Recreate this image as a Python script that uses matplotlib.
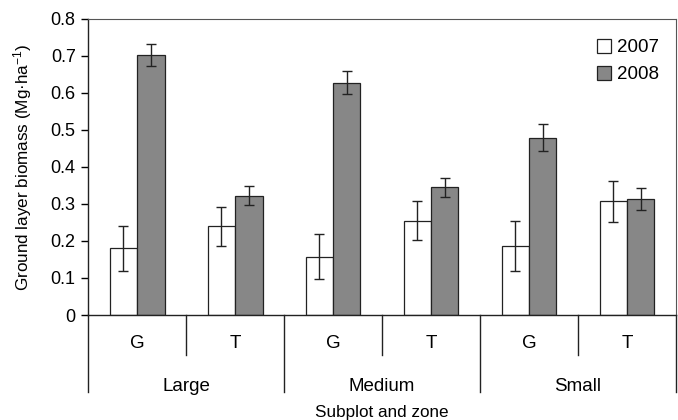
import matplotlib.pyplot as plt
import numpy as np

plt.rcParams['font.family'] = ['Liberation Sans', 'DejaVu Sans']
plt.rcParams['mathtext.fontset'] = 'custom'
plt.rcParams['mathtext.rm'] = 'Liberation Sans'
plt.rcParams['mathtext.it'] = 'Liberation Sans'

zones = ["G", "T", "G", "T", "G", "T"]
subplots = ["Large", "Medium", "Small"]

mean2007 = [0.18, 0.24, 0.158, 0.255, 0.187, 0.307]
err2007 = [0.06, 0.053, 0.06, 0.052, 0.067, 0.056]
mean2008 = [0.702, 0.322, 0.628, 0.345, 0.479, 0.314]
err2008 = [0.03, 0.026, 0.03, 0.026, 0.037, 0.03]

x = np.arange(len(zones))
w = 0.28

fig = plt.figure(figsize=(6.78, 4.2), dpi=100)
ax = fig.add_axes([0.130, 0.25, 0.867, 0.705])

ekw = dict(ecolor="#222222", elinewidth=1.0, capsize=3.5, capthick=1.0)
ax.bar(x - w / 2, mean2007, w, yerr=err2007, color="white",
       edgecolor="#222222", linewidth=0.9, label="2007", error_kw=ekw)
ax.bar(x + w / 2, mean2008, w, yerr=err2008, color="#878787",
       edgecolor="#222222", linewidth=0.9, label="2008", error_kw=ekw)

ax.set_xlim(-0.5, len(zones) - 0.5)
ax.set_ylim(0, 0.8)
ax.set_yticks(np.arange(0, 0.81, 0.1))
ax.set_yticklabels(["0"] + ["%.1f" % v for v in np.arange(0.1, 0.81, 0.1)])
ax.tick_params(axis="y", labelsize=13, length=5, width=1, direction="out", pad=4)
ax.set_xticks([])

for s in ["top", "right"]:
    ax.spines[s].set_color("#555555")
    ax.spines[s].set_linewidth(0.8)
for s in ["left", "bottom"]:
    ax.spines[s].set_color("#222222")
    ax.spines[s].set_linewidth(1.0)

ax.set_ylabel("Ground layer biomass (Mg·ha$^{-1}$)", fontsize=12.3, labelpad=12)

# hierarchical x axis
trans = ax.get_xaxis_transform()
for b in [0.5, 2.5, 4.5]:
    ax.plot([b, b], [0, -0.135], color="#222222", lw=1, transform=trans, clip_on=False)
for b in [-0.5, 1.5, 3.5, 5.5]:
    ax.plot([b, b], [0, -0.26], color="#222222", lw=1, transform=trans, clip_on=False)
for i, z in enumerate(zones):
    ax.text(i, -0.095, z, ha="center", va="center", fontsize=13.5, transform=trans)
for j, s in enumerate(subplots):
    ax.text(2 * j + 0.5, -0.24, s, ha="center", va="center", fontsize=13.5, transform=trans)
ax.text(2.5, -0.33, "Subplot and zone", ha="center", va="center", fontsize=12.3, transform=trans)

ax.legend(loc="upper right", frameon=False, fontsize=13.5, handlelength=0.75,
          handleheight=0.75, handletextpad=0.3, labelspacing=0.5,
          borderaxespad=0.2, bbox_to_anchor=(0.99, 0.97))

fig.savefig("out.png", dpi=100)
